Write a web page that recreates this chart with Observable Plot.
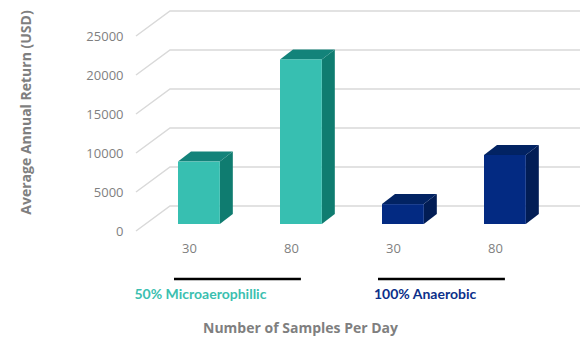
<!DOCTYPE html>
<html><head><meta charset="utf-8">
<script src="https://cdn.jsdelivr.net/npm/d3@7"></script>
<script src="https://cdn.jsdelivr.net/npm/@observablehq/plot@0.6"></script>
<style>body{margin:0;background:#fff}</style>
</head><body><div id="chart"></div>
<script>
// ---- data ----
const keys = ["M30", "M80", "A30", "A80"];
const sampleLabels = ["30", "80", "30", "80"];
const groupOf = ["50% Microaerophillic", "50% Microaerophillic", "100% Anaerobic", "100% Anaerobic"];
const values = [8000, 21100, 2550, 8850];
const groupNames = ["50% Microaerophillic", "100% Anaerobic"];
const groupFirst = ["M30", "A30"];
const groupLast = ["M80", "A80"];
const yTicks = [0, 5000, 10000, 15000, 20000, 25000];
const yTitle = "Average Annual Return (USD)";
const xTitle = "Number of Samples Per Day";

// ---- styles ----
const frontColor = {"50% Microaerophillic": "#37bfb1", "100% Anaerobic": "#032a82"};
const topColor = {"50% Microaerophillic": "#13837a", "100% Anaerobic": "#022363"};
const sideColor = {"50% Microaerophillic": "#0f7c70", "100% Anaerobic": "#021d55"};
const labelColor = {"50% Microaerophillic": "#3bbfb0", "100% Anaerobic": "#0b2f8a"};
const DX = 13, DY = 10; // 3D depth offset (px)
const PAD = 0.59;

const data = keys.map((k, i) => ({key: k, label: sampleLabels[i], group: groupOf[i], value: values[i]}));

const W = 588, H = 341, ML = 136, MR = 8, MB = 117;

function bandW(x) {
  return (x(keys[1]) - x(keys[0])) * (1 - PAD);
}

function gridRender(index, scales, vals, dims) {
  const y = scales.y;
  const g = d3.create("svg:g");
  const x0 = dims.marginLeft, xb = dims.marginLeft + 34, x1 = dims.width - dims.marginRight;
  for (const i of index) {
    const v = yTicks[i];
    g.append("path")
      .attr("d", `M${x0},${y(v) + 7}L${xb},${y(v) - 18}L${x1},${y(v) - 18}`)
      .attr("fill", "none").attr("stroke", "#d9d9d9").attr("stroke-width", 1.5);
  }
  return g.node();
}

function barsRender(index, scales) {
  const {x, y} = scales;
  const bw = bandW(x);
  const g = d3.create("svg:g");
  for (const i of index) {
    const d = data[i];
    const a = x(d.key), b = a + bw, t = y(d.value), bot = y(0);
    g.append("path").attr("fill", sideColor[d.group])
      .attr("d", `M${b},${t}L${b + DX},${t - DY}L${b + DX},${bot - DY}L${b},${bot}Z`);
    g.append("path").attr("fill", topColor[d.group])
      .attr("d", `M${a},${t}L${a + DX},${t - DY}L${b + DX},${t - DY}L${b},${t}Z`);
    g.append("rect").attr("fill", frontColor[d.group])
      .attr("x", a).attr("y", t).attr("width", bw).attr("height", bot - t);
  }
  return g.node();
}

function groupLineRender(index, scales, vals, dims) {
  const {x} = scales;
  const bw = bandW(x);
  const g = d3.create("svg:g");
  const yy = dims.height - dims.marginBottom + 55;
  for (let i = 0; i < groupNames.length; i++) {
    g.append("line")
      .attr("x1", x(groupFirst[i]) - 4).attr("x2", x(groupLast[i]) + bw / 2)
      .attr("y1", yy).attr("y2", yy)
      .attr("stroke", "#000").attr("stroke-width", 2.5);
  }
  return g.node();
}

const chart = Plot.plot({
  width: W, height: H,
  marginLeft: ML, marginRight: MR, marginTop: 0, marginBottom: MB,
  style: {background: "#fff", fontFamily: "'Open Sans', sans-serif"},
  x: {type: "band", domain: keys, range: [147, 556], paddingInner: PAD, paddingOuter: 0.295, axis: null},
  y: {domain: [0, 25000], range: [224, 29], axis: null},
  marks: [
    Plot.ruleY(yTicks, {y: d => d, render: gridRender}),
    Plot.barY(data, {x: "key", y: "value", render: barsRender}),
    // y tick labels
    Plot.text(yTicks, {y: d => d, frameAnchor: "left", textAnchor: "end", dx: -13, dy: 7,
      text: d => String(d), fill: "#7f7f7f", fontSize: 13}),
    // y title
    Plot.text([yTitle], {frameAnchor: "left", textAnchor: "middle", dx: -110, rotate: -90, text: d => d,
      fill: "#7f7f7f", fontSize: 14, fontWeight: "bold"}),
    // x tick labels
    Plot.text(data, {x: "key", text: "label", frameAnchor: "bottom", dy: 28, dx: -10,
      fill: "#7f7f7f", fontSize: 13}),
    // group lines
    Plot.ruleY([0], {y: d => d, render: groupLineRender}),
    // group labels
    Plot.text([groupNames[0]], {x: () => groupFirst[0], text: d => d, frameAnchor: "bottom",
      textAnchor: "start", dx: -65, dy: 74, fill: labelColor[groupNames[0]],
      fontSize: 14, fontWeight: "bold", fontFamily: "Lato, sans-serif"}),
    Plot.text([groupNames[1]], {x: () => groupFirst[1], text: d => d, frameAnchor: "bottom",
      textAnchor: "start", dx: -29.5, dy: 74, fill: labelColor[groupNames[1]],
      fontSize: 14, fontWeight: "bold", fontFamily: "Lato, sans-serif"}),
    // x title
    Plot.text([xTitle], {frameAnchor: "bottom", dx: -58, dy: 108, text: d => d,
      fill: "#7f7f7f", fontSize: 14, fontWeight: "bold"})
  ]
});
document.getElementById("chart").appendChild(chart);
</script>
</body></html>
